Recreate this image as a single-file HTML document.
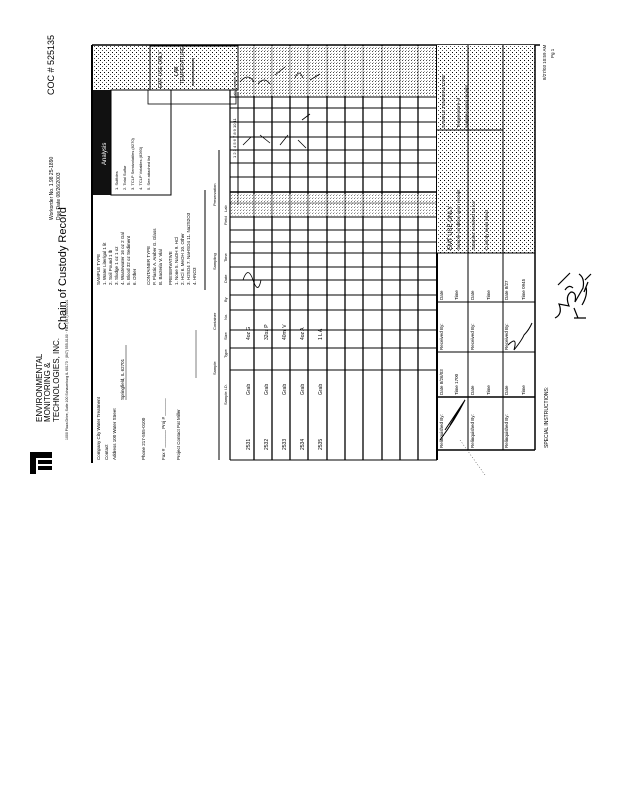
<!DOCTYPE html>
<html><head><meta charset="utf-8"><style>
html,body{margin:0;padding:0;background:#fff;width:619px;height:800px;overflow:hidden}
svg{display:block}
text{font-family:"Liberation Sans",sans-serif;fill:#000}
</style></head><body>
<svg width="619" height="800" viewBox="0 0 619 800" xmlns="http://www.w3.org/2000/svg">
<defs>
<pattern id="dots" width="4" height="4" patternUnits="userSpaceOnUse">
<rect width="4" height="4" fill="#fff"/>
<rect x="0" y="0" width="1" height="1" fill="#000"/>
<rect x="2" y="2" width="1" height="1" fill="#555"/>
</pattern>
<pattern id="dots2" width="3" height="3" patternUnits="userSpaceOnUse">
<rect width="3" height="3" fill="#fff"/>
<rect x="0" y="0" width="1" height="1" fill="#000"/>
<rect x="1" y="2" width="1" height="1" fill="#888"/>
</pattern>
</defs>

<!-- header (left) -->
<g font-size="8">
<text transform="translate(42,422) rotate(-90)" font-family="Liberation Serif">ENVIRONMENTAL</text>
<text transform="translate(50,422) rotate(-90)" font-family="Liberation Serif">MONITORING &amp;</text>
<text transform="translate(59,422) rotate(-90)" font-family="Liberation Serif">TECHNOLOGIES, INC.</text>
</g>
<g transform="translate(30,452)">
<rect x="0" y="0" width="22" height="6" fill="#000"/>
<rect x="0" y="0" width="6" height="22" fill="#000"/>
<rect x="8" y="8" width="14" height="4" fill="#000"/>
<rect x="8" y="14" width="14" height="4" fill="#000"/>
</g>
<text transform="translate(66,330) rotate(-90)" font-size="11" font-family="Liberation Serif">Chain of Custody Record</text>
<text transform="translate(68,440) rotate(-90)" font-size="3.5">1000 Plaza Drive, Suite 100 Schaumburg IL 60173 · (847) 555-0100 · FAX (847) 555-0101</text>
<text transform="translate(53,220) rotate(-90)" font-size="5">Workorder No. 1.98  25-1890</text>
<text transform="translate(60,220) rotate(-90)" font-size="5">Due Date   08/26/2003</text>
<text transform="translate(54,95) rotate(-90)" font-size="9">COC #  525135</text>

<!-- frame -->
<line x1="92" y1="45" x2="92" y2="463" stroke="#000" stroke-width="2"/>
<line x1="92" y1="45" x2="540" y2="45" stroke="#000" stroke-width="1.5"/>
<!-- top stippled / analysis -->
<rect x="93" y="46" width="145" height="44" fill="url(#dots)"/>
<rect x="93" y="90" width="18" height="105" fill="#111"/>
<text transform="translate(106,165) rotate(-90)" font-size="6" style="fill:#fff">Analysis</text>
<rect x="111" y="90" width="60" height="105" fill="none" stroke="#000" stroke-width="1"/>
<g font-size="4">
<text transform="translate(118,190) rotate(-90)">1. Sulfides</text>
<text transform="translate(126,190) rotate(-90)">2. Total Sulfur</text>
<text transform="translate(134,190) rotate(-90)">3. TCLP Semivolatiles (8270)</text>
<text transform="translate(142,190) rotate(-90)">4. TCLP Volatiles (8260)</text>
<text transform="translate(150,190) rotate(-90)">5. See attached list</text>
</g>
<rect x="148" y="90" width="88" height="14" fill="none" stroke="#000" stroke-width="0.8"/>
<rect x="150" y="46" width="88" height="44" fill="none" stroke="#000" stroke-width="1"/>
<text transform="translate(162,88) rotate(-90)" font-size="5">EMT USE ONLY</text>
<text transform="translate(178,76) rotate(-90)" font-size="5">LAB</text>
<text transform="translate(184,84) rotate(-90)" font-size="5">TEMPERATURE</text>
<line x1="193" y1="58" x2="193" y2="86" stroke="#000"/>

<!-- company block texts -->
<g font-size="4.5">
<text transform="translate(100,460) rotate(-90)">Company  City Water Treatment</text>
<text transform="translate(108,460) rotate(-90)">Contact</text>
<text transform="translate(116,460) rotate(-90)">Address   100 Water Street</text>
<text transform="translate(124,400) rotate(-90)">Springfield, IL 62701</text>
<text transform="translate(145,460) rotate(-90)">Phone   217-555-0100</text>
<text transform="translate(165,460) rotate(-90)">Fax #  _______   Proj #  _______</text>
<text transform="translate(180,460) rotate(-90)">Project Contact   Pat Miller</text>
<text transform="translate(100,285) rotate(-90)">SAMPLE TYPE</text>
<text transform="translate(106,285) rotate(-90)">1. Water      Liter/gal     1 lit</text>
<text transform="translate(112,285) rotate(-90)">2. Soil       Pound        1 lb</text>
<text transform="translate(118,285) rotate(-90)">3. Sludge     1 oz        1 oz</text>
<text transform="translate(124,285) rotate(-90)">4. Wastewater  16 oz     2 Gal</text>
<text transform="translate(130,285) rotate(-90)">5. Blood      32 oz       Sediment</text>
<text transform="translate(136,285) rotate(-90)">6. Other</text>
<text transform="translate(150,285) rotate(-90)">CONTAINER TYPE</text>
<text transform="translate(156,285) rotate(-90)">P. Plastic    A. Amber   G. Glass</text>
<text transform="translate(162,285) rotate(-90)">B. Bacteria   V. Vial</text>
<text transform="translate(172,285) rotate(-90)">PRESERVATIVE</text>
<text transform="translate(178,285) rotate(-90)">1. None   5. NaOH   9. HCl</text>
<text transform="translate(184,285) rotate(-90)">2. HCl    6. MeOH   10. Other</text>
<text transform="translate(190,285) rotate(-90)">3. H2SO4  7. NaHSO4  11. Na2S2O3</text>
<text transform="translate(196,285) rotate(-90)">4. HNO3</text>
</g>
<line x1="126" y1="400" x2="126" y2="345" stroke="#000" stroke-width="0.5"/>
<line x1="196" y1="378" x2="196" y2="330" stroke="#000" stroke-width="0.5"/>

<!-- table header area -->
<line x1="205" y1="190" x2="205" y2="290" stroke="#000"/>
<line x1="219" y1="150" x2="219" y2="460" stroke="#000"/>
<line x1="230" y1="90" x2="230" y2="460" stroke="#000" stroke-width="1.2"/>
<line x1="238" y1="92" x2="238" y2="205" stroke="#000"/>
<g font-size="4">
<text transform="translate(216,375) rotate(-90)">Sample</text>
<text transform="translate(216,330) rotate(-90)">Container</text>
<text transform="translate(216,270) rotate(-90)">Sampling</text>
<text transform="translate(216,206) rotate(-90)">Preservation</text>
<text transform="translate(227,405) rotate(-90)">Sample I.D.</text>
<text transform="translate(227,358) rotate(-90)">Type</text>
<text transform="translate(227,340) rotate(-90)">Size</text>
<text transform="translate(227,320) rotate(-90)">No.</text>
<text transform="translate(227,302) rotate(-90)">By</text>
<text transform="translate(227,283) rotate(-90)">Date</text>
<text transform="translate(227,262) rotate(-90)">Time</text>
<text transform="translate(227,225) rotate(-90)">Field</text>
<text transform="translate(227,212) rotate(-90)">Lab</text>
<text transform="translate(236,158) rotate(-90)">1  2  3  4  5  6  7  8  9  10  11</text>
<text transform="translate(236,98) rotate(-90)">Lab Sample ID</text>
</g>

<!-- grid -->
<g stroke="#000" stroke-width="1">
<line x1="230" y1="45" x2="437" y2="45"/>
<line x1="230" y1="97" x2="437" y2="97"/>
<line x1="230" y1="108" x2="437" y2="108"/>
<line x1="230" y1="122" x2="437" y2="122"/>
<line x1="230" y1="137" x2="437" y2="137"/>
<line x1="230" y1="150" x2="437" y2="150"/>
<line x1="230" y1="163" x2="437" y2="163"/>
<line x1="230" y1="177" x2="437" y2="177"/>
<line x1="230" y1="192" x2="437" y2="192" stroke-width="1.5"/>
<line x1="230" y1="203" x2="437" y2="203"/>
<line x1="230" y1="217" x2="437" y2="217"/>
<line x1="230" y1="230" x2="437" y2="230"/>
<line x1="230" y1="242" x2="437" y2="242"/>
<line x1="230" y1="253" x2="437" y2="253"/>
<line x1="230" y1="267" x2="437" y2="267"/>
<line x1="230" y1="280" x2="437" y2="280"/>
<line x1="230" y1="295" x2="437" y2="295"/>
<line x1="230" y1="310" x2="437" y2="310"/>
<line x1="230" y1="330" x2="437" y2="330"/>
<line x1="230" y1="348" x2="437" y2="348"/>
<line x1="230" y1="370" x2="437" y2="370"/>
<line x1="230" y1="460" x2="437" y2="460"/>
</g>
<g stroke="#000" stroke-width="1.3">
<line x1="254" y1="45" x2="254" y2="460"/>
<line x1="272" y1="45" x2="272" y2="460"/>
<line x1="290" y1="45" x2="290" y2="460"/>
<line x1="308" y1="45" x2="308" y2="460"/>
<line x1="327" y1="45" x2="327" y2="460"/>
<line x1="345" y1="45" x2="345" y2="460"/>
<line x1="363" y1="45" x2="363" y2="460"/>
<line x1="382" y1="45" x2="382" y2="460"/>
<line x1="400" y1="45" x2="400" y2="460"/>
<line x1="418" y1="45" x2="418" y2="460"/>
<line x1="437" y1="45" x2="437" y2="460" stroke-width="2"/>
</g>
<!-- lab id stipple column and preservation stipple -->
<rect x="239" y="46" width="197" height="50" fill="url(#dots2)" opacity="0.7"/>
<rect x="231" y="194" width="205" height="22" fill="url(#dots2)" opacity="0.5"/>
<g font-size="5">
<text transform="translate(250,450) rotate(-90)">2531</text>
<text transform="translate(268,450) rotate(-90)">2532</text>
<text transform="translate(286,450) rotate(-90)">2533</text>
<text transform="translate(304,450) rotate(-90)">2534</text>
<text transform="translate(322,450) rotate(-90)">2535</text>
<text transform="translate(250,395) rotate(-90)">Grab</text>
<text transform="translate(268,395) rotate(-90)">Grab</text>
<text transform="translate(286,395) rotate(-90)">Grab</text>
<text transform="translate(304,395) rotate(-90)">Grab</text>
<text transform="translate(322,395) rotate(-90)">Grab</text>
<text transform="translate(250,340) rotate(-90)">4oz  G</text>
<text transform="translate(268,340) rotate(-90)">32oz  P</text>
<text transform="translate(286,340) rotate(-90)">40ml  V</text>
<text transform="translate(304,340) rotate(-90)">4oz  A</text>
<text transform="translate(322,340) rotate(-90)">1 L  A</text>
</g>
<!-- scribbles -->
<g stroke="#000" fill="none" stroke-width="0.8">
<path d="M240 82 q8 -10 14 0 M258 84 q6 -8 12 0 M275 75 l10 -8 M295 78 q4 -10 8 0 M310 80 l10 -6"/>
<path d="M243 145 l8 -8 M260 135 l10 8 M280 145 l8 -10 M298 140 l8 8 M302 120 l8 -6"/>
<path d="M243 280 q5 -15 10 0 q5 15 8 0"/>
</g>

<!-- bottom box -->
<rect x="437" y="45" width="98" height="208" fill="url(#dots)"/>
<line x1="535" y1="45" x2="535" y2="450" stroke="#000" stroke-width="1.5"/>
<line x1="437" y1="253" x2="535" y2="253" stroke="#000"/>
<line x1="437" y1="302" x2="535" y2="302" stroke="#000"/>
<line x1="437" y1="352" x2="535" y2="352" stroke="#000"/>
<line x1="437" y1="397" x2="535" y2="397" stroke="#000" stroke-width="1.5"/>
<line x1="437" y1="450" x2="535" y2="450" stroke="#000" stroke-width="1.5"/>
<line x1="468" y1="45" x2="468" y2="450" stroke="#000"/>
<line x1="503" y1="45" x2="503" y2="450" stroke="#000"/>
<line x1="437" y1="130" x2="503" y2="130" stroke="#000"/>
<g font-size="4.5">
<text transform="translate(443,448) rotate(-90)">Relinquished By:</text>
<text transform="translate(474,448) rotate(-90)">Relinquished By:</text>
<text transform="translate(508,448) rotate(-90)">Relinquished By:</text>
<text transform="translate(443,395) rotate(-90)">Date  8/26/03</text>
<text transform="translate(458,395) rotate(-90)">Time  1700</text>
<text transform="translate(474,395) rotate(-90)">Date</text>
<text transform="translate(490,395) rotate(-90)">Time</text>
<text transform="translate(508,395) rotate(-90)">Date</text>
<text transform="translate(525,395) rotate(-90)">Time</text>
<text transform="translate(443,350) rotate(-90)">Received By:</text>
<text transform="translate(474,350) rotate(-90)">Received By:</text>
<text transform="translate(508,350) rotate(-90)">Received By:</text>
<text transform="translate(443,300) rotate(-90)">Date</text>
<text transform="translate(458,300) rotate(-90)">Time</text>
<text transform="translate(474,300) rotate(-90)">Date</text>
<text transform="translate(490,300) rotate(-90)">Time</text>
<text transform="translate(508,300) rotate(-90)">Date 8/27</text>
<text transform="translate(525,300) rotate(-90)">Time  0945</text>
<text transform="translate(452,250) rotate(-90)" font-size="6">EMT USE ONLY</text>
<text transform="translate(460,250) rotate(-90)">Sample condition upon receipt</text>
<text transform="translate(475,250) rotate(-90)">Samples received on ice</text>
<text transform="translate(488,250) rotate(-90)">Custody seals intact</text>
<text transform="translate(445,128) rotate(-90)">SAMPLE TEMPERATURE</text>
<text transform="translate(460,128) rotate(-90)">Temperature of</text>
<text transform="translate(468,128) rotate(-90)">samples upon receipt</text>
</g>
<g stroke="#000" fill="none" stroke-width="1">
<path d="M440 440 q15 -20 25 -40 M445 430 q10 -15 20 -30 M450 425 l15 -25"/>
<path d="M508 345 q10 -10 6 5 q8 -10 10 -15 q5 -5 8 -12"/>
<path d="M460 440 l25 35" stroke-width="0.5" stroke-dasharray="1 2"/>
</g>
<text transform="translate(548,448) rotate(-90)" font-size="5">SPECIAL INSTRUCTIONS:</text>
<text transform="translate(546,80) rotate(-90)" font-size="4.5">8/27/03  10:59 AM</text>
<text transform="translate(554,58) rotate(-90)" font-size="4.5">Pg 1</text>
<g stroke="#000" fill="none" stroke-width="1.2">
<path d="M555 318 q8 -4 4 -14 l10 2 q-4 -10 2 -14 q6 0 4 10 l8 -14 q2 -10 -4 -14 M565 290 q4 -6 8 -2 M558 285 l12 -12"/>
<path d="M574 318 l12 0 M578 318 l-4 -10 M582 305 q6 -10 4 -18 M584 292 l4 -10 M585 280 l6 -6"/>
</g>
</svg>
</body></html>
